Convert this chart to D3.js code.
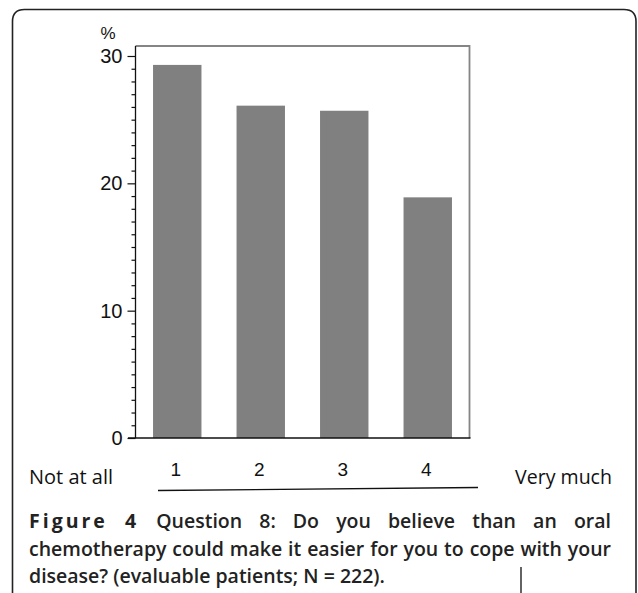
<!DOCTYPE html>
<html>
<head>
<meta charset="utf-8">
<script src="https://cdn.jsdelivr.net/npm/d3@7"></script>
<style>
  html, body { margin: 0; padding: 0; background: #fff; }
  svg { display: block; }
</style>
</head>
<body>
<svg id="chart" width="638" height="593"></svg>
<script>
// ---- data ----
const categories = ["1", "2", "3", "4"];
const values = [29.3, 26.1, 25.7, 18.9];
const yMajorTicks = [0, 10, 20, 30];
const yMinorTicks = d3.range(0, 31, 1);
const yUnit = "%";
const lowLabel = "Not at all";
const highLabel = "Very much";
const captionBold = "Figure 4";
const captionLines = [
  "Question 8: Do you believe than an oral",
  "chemotherapy could make it easier for you to cope with your",
  "disease? (evaluable patients; N = 222)."
];

(function () {
const svg = d3.select("#chart");

// ---- outer frame (rounded panel) ----
const r = 12;
svg.append("path")
  .attr("d", `M12.5,593 L12.5,${9.5 + r} Q12.5,9.5 ${12.5 + r},9.5 L${636 - r},9.5 Q636,9.5 636,${9.5 + r} L636,593`)
  .attr("fill", "none").attr("stroke", "#222").attr("stroke-width", 1.6);
svg.append("line").attr("x1", 521).attr("x2", 521).attr("y1", 567).attr("y2", 593)
  .attr("stroke", "#222").attr("stroke-width", 1.4);

// ---- plot geometry ----
const pL = 135.5, pR = 469.5, pT = 46, pB = 438;

const x = d3.scaleBand().domain(categories).range([pL, pR])
  .paddingInner(0.42).paddingOuter(0.21);
const y = d3.scaleLinear().domain([0, 30]).range([pB, 56]);

// bars
svg.append("g").selectAll("rect").data(values).join("rect")
  .attr("x", (d, i) => x(categories[i]))
  .attr("y", d => y(d))
  .attr("width", x.bandwidth())
  .attr("height", d => y(0) - y(d))
  .attr("fill", "#808080");

// top and right frame (gray)
svg.append("path")
  .attr("d", `M${pL},${pT} L${pR},${pT} L${pR},${pB}`)
  .attr("fill", "none").attr("stroke", "#858585").attr("stroke-width", 1.8);

// y axis
const yAxis = d3.axisLeft(y).tickValues(yMinorTicks).tickSize(8).tickPadding(5)
  .tickFormat(d => yMajorTicks.includes(d) ? String(d) : "");
const gy = svg.append("g").attr("transform", `translate(${pL},0)`).call(yAxis);
gy.select(".domain").remove();
gy.selectAll(".tick line")
  .attr("x2", d => yMajorTicks.includes(d) ? -8 : -4)
  .attr("stroke", "#111").attr("stroke-width", 1.2);
gy.selectAll(".tick text")
  .attr("font-family", "'Liberation Sans', Arial, sans-serif")
  .attr("font-size", 20).attr("fill", "#111");
svg.append("line").attr("x1", pL).attr("x2", pL).attr("y1", pT).attr("y2", pB)
  .attr("stroke", "#111").attr("stroke-width", 1.3);
svg.append("line").attr("x1", 128).attr("x2", pR + 1).attr("y1", pB).attr("y2", pB)
  .attr("stroke", "#111").attr("stroke-width", 1.3);

// unit label
svg.append("text").attr("x", 108).attr("y", 39).attr("text-anchor", "middle")
  .attr("font-family", "'Liberation Sans', Arial, sans-serif").attr("font-size", 17)
  .attr("fill", "#111").text(yUnit);

// x category labels
const xAxis = d3.axisBottom(x).tickSize(0).tickPadding(0);
const gx = svg.append("g").attr("transform", `translate(0,${pB + 24})`).call(xAxis);
gx.select(".domain").remove();
gx.selectAll(".tick text")
  .attr("font-family", "'Liberation Sans', Arial, sans-serif")
  .attr("font-size", 19).attr("fill", "#111").attr("dy", "0.71em")
  .attr("dx", -1.5);

// scale end labels
const labelFont = "'Open Sans', 'Noto Sans', sans-serif";
svg.append("text").attr("x", 29).attr("y", 484).attr("font-family", labelFont)
  .attr("font-size", 19.5).attr("fill", "#111")
  .attr("textLength", 84).attr("lengthAdjust", "spacingAndGlyphs").text(lowLabel);
svg.append("text").attr("x", 515).attr("y", 484).attr("font-family", labelFont)
  .attr("font-size", 19.5).attr("fill", "#111")
  .attr("textLength", 97).attr("lengthAdjust", "spacingAndGlyphs").text(highLabel);

// underline bar
svg.append("line").attr("x1", 158).attr("x2", 478).attr("y1", 490.5).attr("y2", 487.5)
  .attr("stroke", "#111").attr("stroke-width", 1.4);

// ---- caption (justified) ----
const capLeft = 29, capRight = 611;
const capFont = "'Open Sans', 'Noto Sans', sans-serif";
const baselines = [528, 556, 583];

// fit caption size so the longest full line fills the measure naturally
const probe = svg.append("text").attr("font-family", capFont).attr("font-size", 20)
  .attr("font-weight", 600).text(captionLines[1].replace(/ /g, ""));
const probeW = probe.node().getComputedTextLength();
probe.remove();
const nSpaces = captionLines[1].split(" ").length - 1;
const capSize = Math.min(19.5, 20 * (capRight - capLeft - 6) / (probeW + nSpaces * 20 * 0.26));

function layLine(words, yb, weights, spacing, justify) {
  const g = svg.append("g");
  const nodes = words.map((w, i) => g.append("text")
    .attr("y", yb).attr("font-family", capFont).attr("font-size", capSize)
    .attr("font-weight", weights[i]).attr("letter-spacing", spacing[i])
    .attr("fill", "#222").text(w));
  const widths = nodes.map((n, i) => n.node().getComputedTextLength());
  const total = d3.sum(widths);
  const normalGap = capSize * 0.26;
  const gap = justify ? (capRight - capLeft - total) / (words.length - 1) : normalGap;
  let cx = capLeft;
  nodes.forEach((n, i) => { n.attr("x", cx); cx += widths[i] + gap; });
}

const l1 = [...captionBold.split(" "), ...captionLines[0].split(" ")];
layLine(l1, baselines[0],
  l1.map((w, i) => i < 2 ? 700 : 600),
  l1.map((w, i) => i < 2 ? 3 : 0), true);
const l2 = captionLines[1].split(" ");
layLine(l2, baselines[1], l2.map(() => 600), l2.map(() => 0), true);
const l3 = captionLines[2].split(" ");
layLine(l3, baselines[2], l3.map(() => 600), l3.map(() => 0), false);
})();
</script>
</body>
</html>
